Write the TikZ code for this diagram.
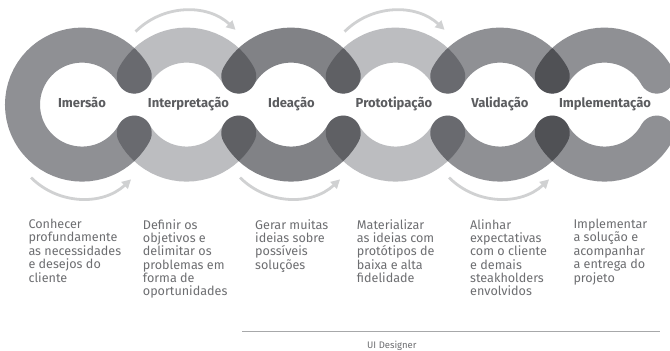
\documentclass[tikz,border=0pt]{standalone}
\usepackage{fontspec}
\setmainfont{Fira Sans}
\usetikzlibrary{arrows.meta}
\definecolor{ringA}{HTML}{8F9094}
\definecolor{ringB}{HTML}{BCBDC0}
\definecolor{ringC}{HTML}{818286}
\definecolor{arrowgray}{HTML}{D0D1D2}
\definecolor{lblgray}{HTML}{5B5C5F}
\definecolor{descgray}{HTML}{6D6E71}
\definecolor{linegray}{HTML}{A7A8AA}
\tikzset{
  ringstroke/.style={line width=35pt, line cap=round},
  flowarrow/.style={draw=arrowgray, line width=2.8pt, -{Triangle[length=9pt,width=9pt]}},
  lbl/.style={anchor=base, inner sep=0pt, text=lblgray, font=\bfseries\fontsize{13}{15}\selectfont},
  desc/.style={anchor=north west, inner sep=0pt, align=left, text=descgray, font=\fontsize{12.6}{13.35}\selectfont},
  sepline/.style={draw=linegray, line width=1.6pt},
  rolelbl/.style={anchor=base west, inner sep=0pt, text=descgray, font=\fontsize{9.5}{11}\selectfont}
}
\begin{document}
\begin{tikzpicture}[x=1pt,y=1pt]
\useasboundingbox (0,0) rectangle (670,351);
\fill[white] (0,0) rectangle (670,351);
% rings
\begin{scope}[blend mode=multiply]
  \draw[ringstroke, ringA] (82,246.4) ++(28.6:59.5) arc[start angle=28.6, end angle=331.4, radius=59.5];
  \foreach \k/\c in {1/ringB,2/ringC,3/ringB,4/ringA,5/ringA}{
    \pgfmathsetmacro{\cx}{82+104.5*\k}
    \draw[ringstroke, \c] (\cx,246.4) ++(28.6:59.5) arc[start angle=28.6, end angle=151.4, radius=59.5];
    \draw[ringstroke, \c] (\cx,246.4) ++(208.6:59.5) arc[start angle=208.6, end angle=331.4, radius=59.5];
  }
\end{scope}
% arrows
\foreach \cx in {186.5,395.5}{
  \draw[flowarrow] (\cx,268.5) ++(135:72) arc[start angle=135, end angle=47, radius=72];
}
\foreach \cx in {82,291,500}{
  \draw[flowarrow] (\cx,224.3) ++(225:72) arc[start angle=225, end angle=313, radius=72];
}
% stage labels
\node[lbl] (imersao) at (82,243) {Imersão};
\node[lbl] (interp) at (188.5,243) {Interpretação};
\node[lbl] (ideacao) at (291.5,243) {Ideação};
\node[lbl] (prototip) at (394,243) {Prototipação};
\node[lbl] (valid) at (500,243) {Validação};
\node[lbl] (implem) at (605,243) {Implementação};
% descriptions
\node[desc] (d1) at (28.3,132) {Conhecer\\profundamente\\as necessidades\\e desejos do\\cliente};
\node[desc] (d2) at (142.7,132) {Definir os\\objetivos e\\delimitar os\\problemas em\\forma de\\oportunidades};
\node[desc] (d3) at (255,132) {Gerar muitas\\ideias sobre\\possíveis\\soluções};
\node[desc] (d4) at (356.7,132) {Materializar\\as ideias com\\protótipos de\\baixa e alta\\fidelidade};
\node[desc] (d5) at (470,132) {Alinhar\\expectativas\\com o cliente\\e demais\\steakholders\\envolvidos};
\node[desc] (d6) at (573.3,132) {Implementar\\a solução e\\acompanhar\\a entrega do\\projeto};
% separator
\coordinate (lineL) at (242,19.3);
\coordinate (lineR) at (660,19.3);
\draw[sepline] (lineL) -- (lineR);
\node[rolelbl] (role) at (367,2) {UI Designer};
\end{tikzpicture}
\end{document}
